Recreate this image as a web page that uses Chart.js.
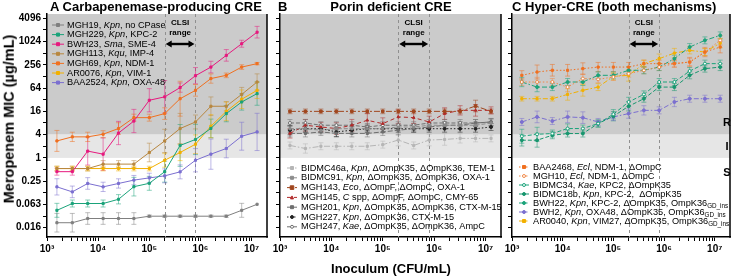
<!DOCTYPE html>
<html><head><meta charset="utf-8">
<script src="https://cdn.jsdelivr.net/npm/chart.js@4.4.0/dist/chart.umd.min.js"></script>
<style>
body{margin:0;background:#fff;width:735px;height:276px;position:relative;overflow:hidden;font-family:'Liberation Sans',Arial,sans-serif;}
canvas{position:absolute;top:0;}
.t{position:absolute;font-weight:bold;font-size:13px;white-space:nowrap;color:#000;line-height:1;}
.c{transform:translate(-50%,-50%);}
</style></head><body>
<canvas id="cA" width="272" height="262" style="left:0px"></canvas>
<canvas id="cB" width="236" height="262" style="left:270px"></canvas>
<canvas id="cC" width="233" height="262" style="left:502px"></canvas>
<div class="t" style="left:50px;top:0px">A Carbapenemase-producing CRE</div>
<div class="t" style="left:278px;top:0px">B</div>
<div class="t c" style="left:391px;top:6px">Porin deficient CRE</div>
<div class="t" style="left:512px;top:0px">C Hyper-CRE (both mechanisms)</div>
<div class="t" style="left:8.5px;top:119px;font-size:14.5px;transform:translate(-50%,-50%) rotate(-90deg)">Meropenem MIC (µg/mL)</div>
<div class="t c" style="left:391px;top:268px">Inoculum (CFU/mL)</div>
<div class="t c" style="left:727px;top:122px;font-size:11px">R</div>
<div class="t c" style="left:727px;top:146px;font-size:11px">I</div>
<div class="t c" style="left:727px;top:172px;font-size:11px">S</div>
<script>
// ---------- DATA ----------
const inoculum = [1562.5, 3125, 6250, 12500, 25000, 50000, 1e5, 2e5, 4e5, 8e5, 1.6e6, 3.2e6, 6.4e6, 1.28e7];
const xTickValues = [1e3, 1e4, 1e5, 1e6, 1e7];
const xTickText = ['10³', '10⁴', '10⁵', '10⁶', '10⁷'];
const yTickValues = [4096, 1024, 256, 64, 16, 4, 1, 0.25, 0.0625, 0.015625];
const yTickText = ['4096', '1024', '256', '64', '16', '4', '1', '0.25', '0.063', '0.016'];
const clsiRange = [2e5, 8e5];
const clsiText = ['CLSI', 'range'];
const breakpointR = 4;
const breakpointS = 1;

// Panel A
const labelsA = ['MGH19, *Kpn*, no CPase', 'MGH229, *Kpn*, KPC-2', 'BWH23, *Sma*, SME-4', 'MGH113, *Kqu*, IMP-4', 'MGH69, *Kpn*, NDM-1', 'AR0076, *Kpn*, VIM-1', 'BAA2524, *Kpn*, OXA-48'];
const mgh19 = [0.021, 0.021, 0.027, 0.027, 0.027, 0.027, 0.031, 0.031, 0.031, 0.031, 0.031, 0.031, 0.044, 0.063];
const mgh229 = [0.044, 0.066, 0.066, 0.066, 0.085, 0.18, 0.22, 0.44, 2.1, 3.0, 5.8, 14, 28, 46];
const bwh23 = [0.44, 0.44, 1.5, 1.25, 4.4, 9, 31, 38, 66, 134, 224, 450, 900, 1790];
const mgh113 = [0.53, 0.53, 0.53, 0.69, 0.69, 0.69, 1.38, 2.75, 5.75, 8.5, 21.7, 21.7, 44, 92];
const mgh69 = [2.75, 3.5, 3.5, 4.1, 5.75, 11, 11, 14, 34, 56, 113, 137, 224, 275];
const ar0076 = [0.53, 0.53, 0.53, 0.53, 0.53, 0.53, 0.53, 0.87, 1.38, 2.26, 6.6, 16, 33, 56];
const baa2524 = [0.178, 0.132, 0.218, 0.178, 0.218, 0.266, 0.304, 0.343, 0.435, 0.87, 1.25, 1.75, 3.64, 4.7];
// error half-widths (log2 units)
const mgh19E = [0.8, 0.8, 0.5, 0.5, 0.5, 0.5, 0.1, 0.1, 0.1, 0.1, 0.1, 0.1, 0.6, 0];
const mgh229E = [0.6, 0.3, 0.3, 0.3, 0.4, 0.8, 0.6, 0.9, 1.8, 1.3, 0.8, 0.7, 0.7, 1.0];
const bwh23E = [0.3, 0.3, 1.2, 1.4, 1.0, 1.0, 1.0, 1.4, 0.4, 0.7, 0.5, 0.5, 0.3, 0.5];
const mgh113E = [0.2, 0.2, 0.2, 0.3, 0.3, 0.3, 0.8, 1.0, 1.3, 0.6, 0.8, 0.4, 0.6, 0.7];
const mgh69E = [0.9, 0.4, 0.4, 0.3, 0.5, 0.3, 0.3, 0.5, 1.5, 0.5, 0.4, 0.2, 0.2, 0.1];
const ar0076E = [0.2, 0.2, 0.2, 0.2, 0.2, 0.2, 0.2, 0.6, 0.7, 0.8, 1.0, 0.8, 0.8, 0.7];
const baa2524E = [0.7, 0.5, 0.5, 0.4, 0.4, 0.4, 0.4, 0.6, 0.6, 1.0, 1.3, 0.8, 1.2, 1.6];

// Panel B
const labelsB = ['BIDMC46a, *Kpn*, ΔOmpK35, ΔOmpK36, TEM-1', 'BIDMC91, *Kpn*, ΔOmpK35, ΔOmpK36, OXA-1', 'MGH143, *Eco*, ΔOmpF, ΔOmpC, OXA-1', 'MGH145, *C* spp, ΔOmpF, ΔOmpC, CMY-65', 'MGH201, *Kpn*, ΔOmpK35, ΔOmpK36, CTX-M-15', 'MGH227, *Kpn*, ΔOmpK36, CTX-M-15', 'MGH247, *Kae*, ΔOmpK35, ΔOmpK36, AmpC'];
const bidmc46a = [2.1, 1.75, 2.0, 2.0, 2.0, 2.0, 2.2, 2.9, 2.1, 2.9, 3.0, 3.2, 3.2, 3.2];
const bidmc91 = [5.7, 5.7, 5.2, 5.7, 5.7, 5.7, 5.7, 6.3, 6.3, 7, 7, 7, 7, 8];
const mgh143 = [16, 16, 16, 16, 16, 16, 16, 16, 16, 16, 16, 16, 22, 16];
const mgh145 = [4.3, 7, 6.3, 5.75, 7, 9.4, 7.7, 11.5, 11, 8.5, 14, 17, 17, 17];
const mgh201 = [4.3, 4.3, 4.7, 4.3, 4.3, 4.3, 4.7, 5.2, 5.7, 6.3, 7, 7, 8, 8.5];
const mgh227 = [5.2, 5.7, 5.7, 4.7, 5.2, 5.7, 5.7, 5.7, 5.7, 5.7, 5.7, 5.7, 5.7, 6.3];
const mgh247 = [8, 8, 7, 7, 7, 6.3, 7, 7, 7, 8, 8, 8, 8, 8.5];
const bidmc46aE = [0.3, 0.4, 0.3, 0.3, 0.3, 0.3, 0.3, 0.5, 0.3, 0.5, 0.5, 0.4, 0.3, 0.3];
const bidmc91E = [0.3, 0.3, 0.3, 0.3, 0.3, 0.3, 0.3, 0.3, 0.3, 0.3, 0.3, 0.3, 0.3, 0.3];
const mgh143E = [0.2, 0.2, 0.2, 0.2, 0.2, 0.2, 0.2, 0.2, 0.2, 0.2, 0.2, 0.2, 0.5, 0.2];
const mgh145E = [0.4, 0.5, 0.4, 0.5, 0.5, 0.6, 0.5, 0.6, 0.5, 0.5, 0.5, 0.4, 0.5, 0.3];
const mgh201E = [0.3, 0.3, 0.3, 0.3, 0.3, 0.3, 0.3, 0.4, 0.3, 0.3, 0.3, 0.3, 0.3, 0.3];
const mgh227E = [0.4, 0.3, 0.3, 0.4, 0.3, 0.3, 0.3, 0.3, 0.3, 0.3, 0.3, 0.3, 0.3, 0.3];
const mgh247E = [0.3, 0.3, 0.3, 0.3, 0.3, 0.3, 0.3, 0.3, 0.3, 0.3, 0.3, 0.3, 0.3, 0.3];

// Panel C
const labelsC = ['BAA2468, *Ecl*, NDM-1, ΔOmpC', 'MGH10, *Ecl*, NDM-1, ΔOmpC', 'BIDMC34, *Kae*, KPC2, ΔOmpK35', 'BIDMC18b, *Kpn*, KPC-2,  ΔOmpK35', 'BWH22, *Kpn*, KPC-2, ΔOmpK35, OmpK36{GD_ins}', 'BWH2, *Kpn*, OXA48, ΔOmpK35, OmpK36{GD_ins}', 'AR0040, *Kpn*, VIM27, ΔOmpK35, OmpK36{GD_ins}'];
const baa2468 = [137, 167, 185, 185, 204, 224, 224, 224, 275, 275, 275, 302, 549, 739];
const mgh10 = [92, 92, 92, 68, 113, 108, 124, 151, 185, 224, 275, 302, 549, 1100];
const bidmc34 = [3.64, 4.09, 4.27, 5.75, 5.75, 7.74, 13.5, 28, 44, 92, 92, 177, 275, 275];
const bidmc18b = [2.87, 2.87, 3.86, 4.27, 4.27, 7.74, 12, 21.7, 34, 68, 68, 137, 204, 224];
const bwh22 = [92, 68, 68, 92, 92, 137, 137, 185, 185, 224, 370, 739, 1100, 1480];
const bwh2 = [8.5, 11.5, 9, 11.5, 11, 8.5, 11.5, 14, 17, 17, 28, 34, 34, 34];
const ar0040 = [34, 34, 34, 44, 56, 68, 129, 137, 275, 370, 516, 605, 549, 936];
const baa2468E = [0.4, 0.6, 0.5, 0.5, 0.5, 0.4, 0.4, 0.4, 0.3, 0.3, 0.3, 0.4, 0.4, 0.5];
const mgh10E = [0.3, 0.4, 0.3, 0.4, 0.4, 0.3, 0.3, 0.3, 0.3, 0.3, 0.3, 0.3, 0.3, 0.4];
const bidmc34E = [0.6, 0.6, 0.3, 0.4, 0.3, 0.3, 0.4, 0.4, 0.3, 0.3, 0.3, 0.3, 0.3, 0.3];
const bidmc18bE = [0.5, 0.6, 0.3, 0.3, 0.3, 0.3, 0.4, 0.4, 0.3, 0.3, 0.3, 0.3, 0.3, 0.3];
const bwh22E = [0.4, 0.4, 0.3, 0.3, 0.3, 0.3, 0.3, 0.3, 0.3, 0.3, 0.3, 0.3, 0.3, 0.3];
const bwh2E = [0.3, 0.5, 0.3, 0.5, 0.5, 0.3, 0.3, 0.4, 0.4, 0.3, 0.4, 0.3, 0.3, 0.3];
const ar0040E = [0.2, 0.2, 0.2, 0.5, 0.5, 0.3, 0.3, 0.5, 0.3, 0.4, 0.4, 0.3, 0.3, 0.4];

// ---------- STYLES ----------
const stylesA = [
  {color:'#7f7f7f'}, {color:'#1aa37a'}, {color:'#e6197e'}, {color:'#b8873f'},
  {color:'#f07020'}, {color:'#f2b000'}, {color:'#7b6fd0'}
];
const stylesB = [
  {color:'#b5b5b5', dash:[6,2,1.5,2]},
  {color:'#8c8c8c', dash:[4,2]},
  {color:'#a0461e', dash:[6,2,2,2], pr:1.8},
  {color:'#b22a2a', dash:[4,3], pt:'triangle'},
  {color:'#6e6e6e', dash:[5,2]},
  {color:'#222222', dash:[1.5,2], pt:'circle'},
  {color:'#707070', dash:[4,2], pt:'circle', open:true}
];
const stylesC = [
  {color:'#f07020', dash:[1.5,2]},
  {color:'#f08a4a', dash:[1.5,2], pt:'circle', open:true},
  {color:'#1aa37a', dash:[4,2], pt:'circle', open:true},
  {color:'#17966e', dash:[4,2], pt:'circle'},
  {color:'#1aa37a', dash:[5,2,1.5,2], pt:'circle'},
  {color:'#7b6fd0', dash:[5,2,1.5,2], pt:'circle'},
  {color:'#f2b000', dash:[5,2,1.5,2]}
];

const FAM = "'Liberation Sans', Arial, Helvetica, sans-serif";
const LEG_SIZE = 9.2;
Chart.defaults.font.family = FAM;
Chart.defaults.color = '#000';

function rgba(hex, a) { const n = parseInt(hex.slice(1), 16); return `rgba(${n>>16&255},${n>>8&255},${n&255},${a})`; }

function drawRich(ctx, text, x, y, size) {
  const parts = text.split(/(\*[^*]+\*|\{[^}]+\})/).filter(s => s);
  for (const p of parts) {
    let t = p, dy = 0, font = `${size}px ${FAM}`;
    if (p[0] === '*') { t = p.slice(1, -1); font = `italic ${size}px ${FAM}`; }
    else if (p[0] === '{') { t = p.slice(1, -1); font = `${(size*0.68).toFixed(1)}px ${FAM}`; dy = size*0.32; }
    ctx.font = font; ctx.fillText(t, x, y + dy); x += ctx.measureText(t).width;
  }
}

function drawMarker(ctx, st, x, y) {
  const r = st.pr || 1.5;
  ctx.save(); ctx.setLineDash([]); ctx.lineWidth = 1;
  ctx.fillStyle = st.open ? '#fff' : st.color; ctx.strokeStyle = st.color;
  ctx.beginPath();
  if (st.pt === 'circle') ctx.arc(x, y, r, 0, Math.PI*2);
  else if (st.pt === 'triangle') { ctx.moveTo(x, y-r); ctx.lineTo(x+r, y+r); ctx.lineTo(x-r, y+r); ctx.closePath(); }
  else ctx.rect(x-r, y-r, 2*r, 2*r);
  ctx.fill(); ctx.stroke(); ctx.restore();
}

const panelPlugin = {
  id: 'panel',
  beforeDraw(chart) {
    const {ctx, chartArea: a, scales: {y}} = chart;
    const yR = y.getPixelForValue(breakpointR), yS = y.getPixelForValue(breakpointS);
    ctx.save();
    ctx.fillStyle = '#cbcbcb'; ctx.fillRect(a.left, a.top, a.right - a.left, yR - a.top);
    ctx.fillStyle = '#e6e6e6'; ctx.fillRect(a.left, yR, a.right - a.left, yS - yR);
    ctx.restore();
  },
  beforeDatasetsDraw(chart) {
    const {ctx, chartArea: a, scales: {x, y}} = chart;
    ctx.save();
    ctx.strokeStyle = '#8f8f8f'; ctx.lineWidth = 1; ctx.setLineDash([3, 3]);
    for (const v of clsiRange) {
      const px = Math.round(x.getPixelForValue(v)) + 0.5;
      ctx.beginPath(); ctx.moveTo(px, a.top); ctx.lineTo(px, a.bottom); ctx.stroke();
    }
    ctx.setLineDash([]);
    chart.data.datasets.forEach((ds, di) => {
      const meta = chart.getDatasetMeta(di);
      ctx.strokeStyle = rgba(ds.borderColor, 0.5); ctx.lineWidth = 1;
      ds.data.forEach((pt, i) => {
        const e = ds.errs[i]; if (!e) return;
        const px = meta.data[i].x;
        const y1 = y.getPixelForValue(pt.y * Math.pow(2, -e)), y2 = y.getPixelForValue(pt.y * Math.pow(2, e));
        ctx.beginPath();
        ctx.moveTo(px, y1); ctx.lineTo(px, y2);
        ctx.moveTo(px - 2.5, y1); ctx.lineTo(px + 2.5, y1);
        ctx.moveTo(px - 2.5, y2); ctx.lineTo(px + 2.5, y2);
        ctx.stroke();
      });
    });
    ctx.restore();
  },
  afterDatasetsDraw(chart) {
    const {ctx, chartArea: a, scales: {x}} = chart;
    const p = chart.options.plugins.panel;
    ctx.save();
    // right frame
    ctx.strokeStyle = '#000'; ctx.lineWidth = 1.5;
    ctx.beginPath(); ctx.moveTo(a.right, a.top); ctx.lineTo(a.right, a.bottom + 0.75); ctx.stroke();
    // CLSI annotation
    const xa = x.getPixelForValue(clsiRange[0]), xb = x.getPixelForValue(clsiRange[1]), xm = (xa + xb) / 2;
    ctx.fillStyle = '#000'; ctx.textAlign = 'center'; ctx.textBaseline = 'middle';
    ctx.font = `bold 8px ${FAM}`;
    ctx.fillText(clsiText[0], xm, 23); ctx.fillText(clsiText[1], xm, 33);
    const ay = 44;
    ctx.lineWidth = 2.4; ctx.beginPath(); ctx.moveTo(xa + 4, ay); ctx.lineTo(xb - 4, ay); ctx.stroke();
    ctx.beginPath();
    ctx.moveTo(xa + 1, ay); ctx.lineTo(xa + 7, ay - 3.5); ctx.lineTo(xa + 7, ay + 3.5); ctx.closePath();
    ctx.moveTo(xb - 1, ay); ctx.lineTo(xb - 7, ay - 3.5); ctx.lineTo(xb - 7, ay + 3.5); ctx.closePath();
    ctx.fill();
    // legend
    ctx.textAlign = 'left';
    chart.data.datasets.forEach((ds, i) => {
      const st = p.styles[i];
      const ly = p.ly0 + p.ldy * i;
      ctx.strokeStyle = st.color; ctx.lineWidth = st.lw || 1; ctx.setLineDash(st.dash || []);
      ctx.beginPath(); ctx.moveTo(p.lsx, ly); ctx.lineTo(p.lsx + p.llen, ly); ctx.stroke();
      ctx.setLineDash([]);
      drawMarker(ctx, st, p.lsx + p.llen / 2, ly);
      ctx.fillStyle = '#000';
      drawRich(ctx, p.labels[i], p.ltx, ly, LEG_SIZE);
    });
    ctx.restore();
  }
};

function makeChart(id, p) {
  const datasets = p.series.map((vals, si) => {
    const st = p.styles[si];
    return {
      label: p.labels[si].replace(/[*{}]/g, ''),
      data: inoculum.map((xv, i) => ({x: xv, y: vals[i]})),
      borderColor: st.color, backgroundColor: st.color,
      borderWidth: st.lw || 1, borderDash: st.dash || [],
      pointStyle: st.pt === 'circle' ? 'circle' : (st.pt === 'triangle' ? 'triangle' : 'rect'),
      pointRadius: st.pr || 1.5, pointBorderWidth: 1,
      pointBackgroundColor: st.open ? '#fff' : st.color, pointBorderColor: st.color,
      tension: 0, errs: p.errs[si]
    };
  });
  return new Chart(document.getElementById(id), {
    type: 'line',
    data: {datasets},
    plugins: [panelPlugin],
    options: {
      responsive: false, animation: false, events: [],
      layout: {padding: {left: 0, right: p.padR, top: 14, bottom: 5}},
      plugins: {legend: {display: false}, tooltip: {enabled: false}, panel: p},
      scales: {
        x: {
          type: 'logarithmic', min: 1e3, max: 2e7,
          afterBuildTicks(s) { const t = []; for (let e = 3; e < 7; e++) for (let m = 1; m < 10; m++) t.push({value: m * Math.pow(10, e)}); t.push({value: Math.pow(10, 7)}); s.ticks = t; },
          afterFit(s) { s.height = 20; },
          ticks: {autoSkip: false, maxRotation: 0, minRotation: 0, padding: 2, font: {size: 10, weight: 'bold'},
            callback(v) { const i = xTickValues.indexOf(v); return i >= 0 ? xTickText[i] : ''; }},
          grid: {display: true, drawOnChartArea: false, drawTicks: true, tickLength: 4, color: '#000', lineWidth: 1},
          border: {display: true, color: '#000', width: 1.5}
        },
        y: {
          type: 'logarithmic', min: Math.pow(2, -6.8), max: Math.pow(2, 12.37),
          afterBuildTicks(s) { const t = []; for (let e = -6; e <= 12; e++) t.push({value: Math.pow(2, e)}); s.ticks = t; },
          afterFit(s) { s.width = p.yw; },
          ticks: {autoSkip: false, padding: 2, font: {size: 10, weight: 'bold'},
            callback(v) { if (!p.yLabels) return ''; const i = yTickValues.indexOf(v); return i >= 0 ? yTickText[i] : ''; }},
          grid: {display: true, drawOnChartArea: false, drawTicks: true, tickLength: 4, color: '#000', lineWidth: 1},
          border: {display: true, color: '#000', width: 1.5}
        }
      }
    }
  });
}

makeChart('cA', {series: [mgh19, mgh229, bwh23, mgh113, mgh69, ar0076, baa2524],
  errs: [mgh19E, mgh229E, bwh23E, mgh113E, mgh69E, ar0076E, baa2524E],
  labels: labelsA, styles: stylesA, yw: 47, padR: 4, yLabels: true,
  lsx: 52, llen: 12, ltx: 67, ly0: 25, ldy: 9.6});
makeChart('cB', {series: [bidmc46a, bidmc91, mgh143, mgh145, mgh201, mgh227, mgh247],
  errs: [bidmc46aE, bidmc91E, mgh143E, mgh145E, mgh201E, mgh227E, mgh247E],
  labels: labelsB, styles: stylesB, yw: 10, padR: 3, yLabels: false,
  lsx: 17, llen: 10, ltx: 31, ly0: 168, ldy: 9.8});
makeChart('cC', {series: [baa2468, mgh10, bidmc34, bidmc18b, bwh22, bwh2, ar0040],
  errs: [baa2468E, mgh10E, bidmc34E, bidmc18bE, bwh22E, bwh2E, ar0040E],
  labels: labelsC, styles: stylesC, yw: 10, padR: 2, yLabels: false,
  lsx: 17, llen: 10, ltx: 31, ly0: 167, ldy: 9});
</script>
</body></html>
